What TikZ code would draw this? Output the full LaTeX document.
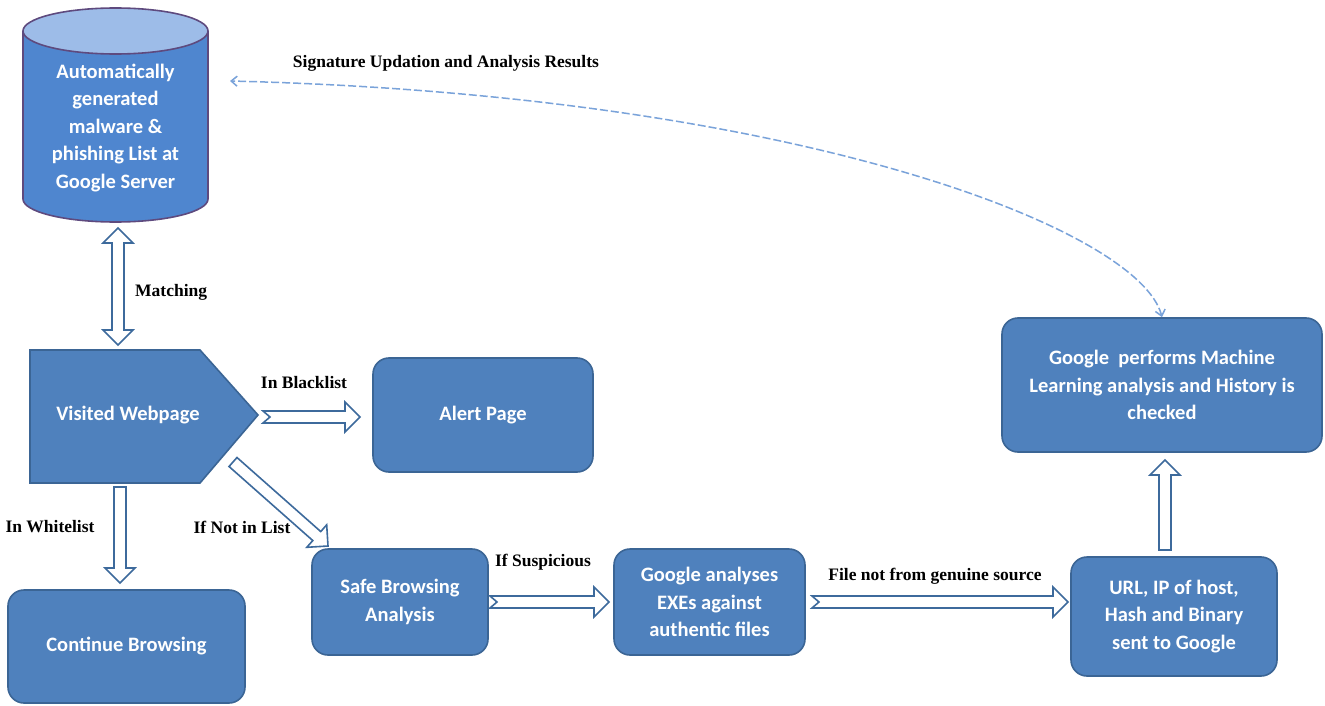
\documentclass[tikz,border=0pt]{standalone}
\usepackage{fontspec}
\setmainfont{Liberation Serif}
\newfontfamily\boxfont{Carlito}
\usetikzlibrary{calc,arrows.meta}
\definecolor{boxblue}{HTML}{4F81BD}
\definecolor{boxline}{HTML}{3B6595}
\definecolor{arrline}{HTML}{3D6A9C}
\definecolor{cylbody}{HTML}{4F86CF}
\definecolor{cyltop}{HTML}{9DBCE8}
\definecolor{cylline}{HTML}{5E4A7E}
\definecolor{dashc}{HTML}{7AA3DA}
\newcommand{\shafth}{6pt}
\newcommand{\headh}{15pt}
\newcommand{\headl}{15pt}
% block arrow: [notch]{from}{to}
\newcommand{\blockarrow}[3][0pt]{%
  \coordinate (baA) at (#2);
  \coordinate (baB) at (#3);
  \coordinate (baC) at ($(baB)!\headl!(baA)$);
  \coordinate (baN) at ($(baA)!#1!(baB)$);
  \draw[blockarr] ($(baA)!\shafth!90:(baB)$) -- ($(baC)!\shafth!-90:(baA)$)
    -- ($(baC)!\headh!-90:(baA)$) -- (baB) -- ($(baC)!\headh!90:(baA)$)
    -- ($(baC)!\shafth!90:(baA)$) -- ($(baA)!\shafth!-90:(baB)$) -- (baN) -- cycle;}
% double headed block arrow
\newcommand{\dblockarrow}[2]{%
  \coordinate (baA) at (#1);
  \coordinate (baB) at (#2);
  \coordinate (baC) at ($(baA)!\headl!(baB)$);
  \coordinate (baD) at ($(baB)!\headl!(baA)$);
  \draw[blockarr] (baA) -- ($(baC)!\headh!90:(baB)$) -- ($(baC)!\shafth!90:(baB)$)
    -- ($(baD)!\shafth!-90:(baA)$) -- ($(baD)!\headh!-90:(baA)$) -- (baB)
    -- ($(baD)!\headh!90:(baA)$) -- ($(baD)!\shafth!90:(baA)$)
    -- ($(baC)!\shafth!-90:(baB)$) -- ($(baC)!\headh!-90:(baB)$) -- cycle;}
\tikzset{
  blockarr/.style={draw=arrline, fill=white, line width=1.6pt, line join=miter},
  box/.style={draw=boxline, fill=boxblue, line width=1.6pt, rounded corners=16pt,
    text=white, font=\boxfont\bfseries\fontsize{20.5}{27.5}\selectfont, align=center},
  btext/.style={text=white, font=\boxfont\bfseries\fontsize{20.5}{27.5}\selectfont, align=center},
  lbl/.style={font=\bfseries\fontsize{17.5}{20}\selectfont, inner sep=0pt},
  feedback/.style={draw=dashc, line width=1.5pt, dash pattern=on 8pt off 3pt,
    {Straight Barb[length=6pt,width=10pt]}-{Straight Barb[length=6pt,width=10pt]}}
}
\begin{document}
\begin{tikzpicture}[x=1pt,y=-1pt]
\useasboundingbox[fill=white] (0,0) rectangle (1325,706);
% database cylinder
\fill[cylbody] (23,31) -- (23,199) arc[start angle=180, end angle=0, x radius=92.5, y radius=23] -- (208,31) -- cycle;
\draw[cylline, line width=1.6pt] (23,31) -- (23,199) arc[start angle=180, end angle=0, x radius=92.5, y radius=23] -- (208,31);
\draw[cylline, line width=1.6pt, fill=cyltop] (115.5,31) ellipse[x radius=92.5, y radius=23];
\node[btext, minimum width=185pt, minimum height=214pt] (db) at (115.5,128)
  {Automatically\\generated\\malware \&\\phishing List at\\Google Server};
% visited webpage
\draw[boxline, fill=boxblue, line width=1.6pt] (30,350) -- (200,350) -- (258,415) -- (200,483) -- (30,483) -- cycle;
\node[btext] (vw) at (128,415) {Visited Webpage};
% boxes
\node[box, minimum width=220pt, minimum height=114pt] (alert) at (483,415) {Alert Page};
\node[box, minimum width=237pt, minimum height=113pt] (cont) at (126.5,646.5) {Continue Browsing};
\node[box, minimum width=176pt, minimum height=106pt] (safe) at (400,602) {Safe Browsing\\Analysis};
\node[box, minimum width=191pt, minimum height=106pt] (gana) at (709.5,602) {Google analyses\\EXEs against\\authentic files};
\node[box, minimum width=206pt, minimum height=119pt] (url) at (1174,616.5) {URL, IP of host,\\Hash and Binary\\sent to Google};
\node[box, minimum width=320pt, minimum height=134pt] (gml) at (1162,385) {Google\ \ performs Machine\\Learning analysis and History is\\checked};
% arrow end points
\coordinate (m1) at (118,228);
\coordinate (m2) at (118,345);
\coordinate (bl1) at (263,417);
\coordinate (bl2) at (360,417);
\coordinate (wl1) at (120,487);
\coordinate (wl2) at (120,583);
\coordinate (nl1) at (233,462);
\coordinate (nl2) at (328,546);
\coordinate (su1) at (490,602);
\coordinate (su2) at (609,602);
\coordinate (fi1) at (812,602);
\coordinate (fi2) at (1068,602);
\coordinate (up1) at (1165,550);
\coordinate (up2) at (1165,460);
\coordinate (fb) at (230,81);
% block arrows
\dblockarrow{m1}{m2}
\blockarrow[7pt]{bl1}{bl2}
\blockarrow{wl1}{wl2}
\blockarrow{nl1}{nl2}
\blockarrow[7pt]{su1}{su2}
\blockarrow[7pt]{fi1}{fi2}
\blockarrow{up1}{up2}
% feedback curve
\draw[feedback] (gml.north) .. controls (1140,230) and (800,95) .. (fb);
% labels
\node[lbl] (lsig) at (446,63) {Signature Updation and Analysis Results};
\node[lbl, anchor=west] (lmat) at (135,292) {Matching};
\node[lbl] (lbl) at (304,383) {In Blacklist};
\node[lbl] (lwl) at (50,527) {In Whitelist};
\node[lbl] (lnl) at (242,527) {If Not in List};
\node[lbl] (lsu) at (543,562) {If Suspicious};
\node[lbl] (lfi) at (935,576) {File not from genuine source};
\end{tikzpicture}
\end{document}
